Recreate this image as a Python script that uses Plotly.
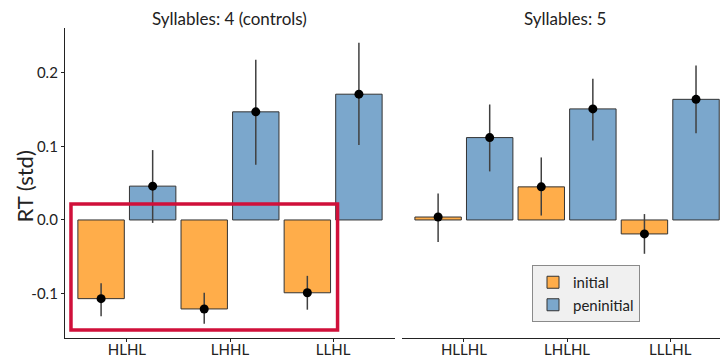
import plotly.graph_objects as go

# ---------------- data ----------------
cats4 = ["HLHL", "LHHL", "LLHL"]
cats5 = ["HLLHL", "LHLHL", "LLLHL"]

init4 = [-0.107, -0.121, -0.099]
init4_hi = [-0.086, -0.099, -0.076]
init4_lo = [-0.131, -0.141, -0.122]
pen4 = [0.046, 0.147, 0.171]
pen4_hi = [0.095, 0.218, 0.241]
pen4_lo = [-0.004, 0.075, 0.102]

init5 = [0.004, 0.045, -0.019]
init5_hi = [0.036, 0.085, 0.008]
init5_lo = [-0.030, 0.006, -0.046]
pen5 = [0.112, 0.151, 0.164]
pen5_hi = [0.157, 0.192, 0.210]
pen5_lo = [0.066, 0.108, 0.118]

yticks = [-0.1, 0.0, 0.1, 0.2]
ytick_labels = ["-0.1", "0.0", "0.1", "0.2"]

# ---------------- style ----------------
FONT = "Lato"
C_INIT = "#FFAD4A"
C_PEN = "#7BA7CC"
EDGE = "#333333"
ERR = "#404040"
TXT = "#222222"

fig = go.Figure()

def add_panel(cats, init, ihi, ilo, pen, phi, plo, xa, ya, show_legend):
    fig.add_trace(go.Bar(x=cats, y=init, name="initial", marker=dict(color=C_INIT, line=dict(color=EDGE, width=1)),
                         offsetgroup="a", xaxis=xa, yaxis=ya, showlegend=show_legend, legendgroup="initial"))
    fig.add_trace(go.Bar(x=cats, y=pen, name="peninitial", marker=dict(color=C_PEN, line=dict(color=EDGE, width=1)),
                         offsetgroup="b", xaxis=xa, yaxis=ya, showlegend=show_legend, legendgroup="peninitial"))
    for vals, hi, lo, grp in [(init, ihi, ilo, "a"), (pen, phi, plo, "b")]:
        fig.add_trace(go.Scatter(
            x=cats, y=vals, mode="markers", offsetgroup=grp, xaxis=xa, yaxis=ya, showlegend=False,
            marker=dict(color="black", size=9),
            error_y=dict(type="data", symmetric=False,
                         array=[h - v for h, v in zip(hi, vals)],
                         arrayminus=[v - l for l, v in zip(lo, vals)],
                         color=ERR, thickness=1.5, width=0)))

add_panel(cats4, init4, init4_hi, init4_lo, pen4, pen4_hi, pen4_lo, "x", "y", True)
add_panel(cats5, init5, init5_hi, init5_lo, pen5, pen5_hi, pen5_lo, "x2", "y2", False)

OFF = 8  # page body margin
W, H = 728 - OFF, 357 - OFF
# plot area in page pixels: x 65..728, y 28..338
L, R = 65 - OFF, 0
T = 28 - OFF
B = 357 - 338
pw = W - L - R
ph = H - T - B

def fx(px):
    return (px - OFF - L) / pw

def fy(py):
    return (H - B - (py - OFF)) / ph

xcommon = dict(showgrid=False, zeroline=False, showline=True, linecolor=TXT, linewidth=1.3,
               ticks="outside", ticklen=3, tickcolor=TXT, automargin=False,
               ticklabelstandoff=-5,
               tickfont=dict(family=FONT, size=15, color=TXT))

fig.update_layout(
    width=W, height=H,
    margin=dict(l=L, r=R, t=T, b=B, autoexpand=False),
    plot_bgcolor="white", paper_bgcolor="white",
    barmode="group", bargap=0.0, bargroupgap=0.1,
    scattermode="group", scattergap=0.0,
    font=dict(family=FONT, color=TXT),
    xaxis=dict(domain=[0, fx(395)], range=[-0.6, 2.6], anchor="y", **xcommon),
    xaxis2=dict(domain=[fx(402), 1], range=[-0.6, 2.56], anchor="y2", **xcommon),
    yaxis=dict(range=[-0.1605, 0.261], tickvals=yticks, ticktext=ytick_labels,
               showgrid=False, zeroline=False, showline=True, linecolor=TXT, linewidth=1.3,
               ticks="outside", ticklen=3, tickcolor=TXT, automargin=False,
               tickfont=dict(family=FONT, size=15, color=TXT), anchor="x"),
    yaxis2=dict(range=[-0.1605, 0.261], matches="y", showgrid=False, zeroline=False, showline=False,
                showticklabels=False, ticks="", anchor="x2", automargin=False),
    legend=dict(x=fx(532), y=fy(265), xanchor="left", yanchor="top",
                bgcolor="#F0F0F0", bordercolor="#8a8a8a", borderwidth=1,
                font=dict(family=FONT, size=15, color=TXT),
                tracegroupgap=0, itemwidth=30),
    shapes=[dict(type="rect", xref="x", yref="y", x0=-0.542, x1=2.043, y0=-0.1497, y1=0.0218,
                 line=dict(color="#D0103A", width=3.5), layer="above")],
    annotations=[
        dict(text="Syllables: 4 (controls)", xref="paper", yref="paper", x=fx(229), y=1,
             xanchor="center", yanchor="bottom", yshift=-2, showarrow=False, borderpad=0,
             font=dict(family=FONT, size=17, color=TXT)),
        dict(text="Syllables: 5", xref="paper", yref="paper", x=fx(565), y=1,
             xanchor="center", yanchor="bottom", yshift=-2, showarrow=False, borderpad=0,
             font=dict(family=FONT, size=17, color=TXT)),
        dict(text="RT (std)", xref="paper", yref="paper", x=fx(23.5), y=fy(187), textangle=-90,
             xanchor="center", yanchor="middle", showarrow=False, borderpad=0,
             font=dict(family=FONT, size=22, color=TXT)),
    ],
)

fig.write_html("out.html")
